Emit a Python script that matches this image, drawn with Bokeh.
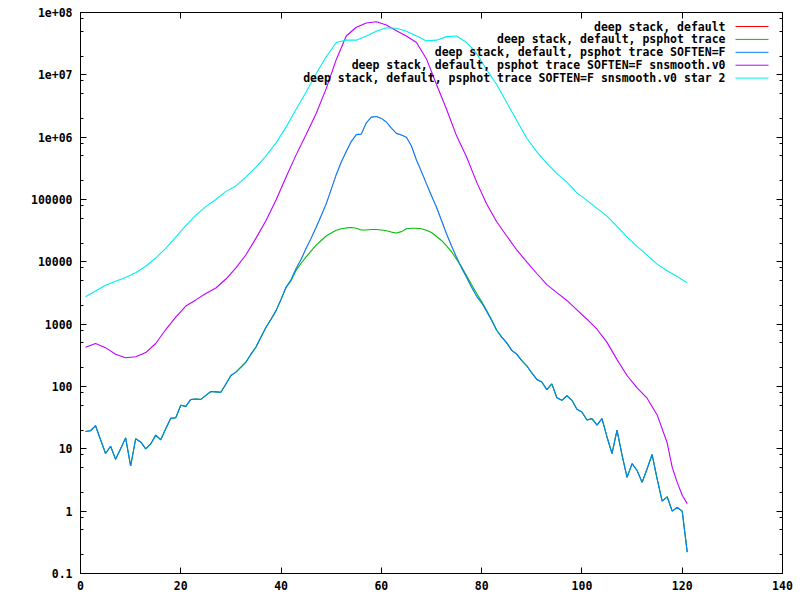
from bokeh.plotting import figure
from bokeh.models import Range1d, FixedTicker, LinearAxis, LogAxis, Label, Arrow
from bokeh.embed import file_html
from bokeh.resources import INLINE

# ---------------- data ----------------
x_ticks = [0, 20, 40, 60, 80, 100, 120, 140]
x_tick_labels = ["0", "20", "40", "60", "80", "100", "120", "140"]
y_ticks = [0.1, 1, 10, 100, 1000, 10000, 100000, 1e6, 1e7, 1e8]
y_tick_labels = ["0.1", "1", "10", "100", "1000", "10000", "100000", "1e+06", "1e+07", "1e+08"]
y_minor_mult = [2, 5, 8]

series_names = [
    "deep stack, default",
    "deep stack, default, psphot trace",
    "deep stack, default, psphot trace SOFTEN=F",
    "deep stack, default, psphot trace SOFTEN=F snsmooth.v0",
    "deep stack, default, psphot trace SOFTEN=F snsmooth.v0 star 2",
]
series_colors = ["#ff0000", "#00c000", "#0080ff", "#c000ff", "#00eeee"]

# blue curve ("SOFTEN=F"), one value per radius bin 1..121
soften_x = list(range(1, 122))
soften_y = [
    19, 19.5, 23.5, 14, 8.4, 11, 6.8, 10, 15, 5.3,
    14.5, 12.9, 10, 12, 16.6, 14, 21, 31, 31.5, 50,
    48, 62, 63, 62, 72, 83, 82, 81, 110, 150,
    170, 205, 247, 330, 430, 620, 890, 1200, 1650, 2500,
    3900, 5200, 7800, 11000, 16500, 24000, 36000, 55000, 85000, 145000,
    250000, 400000, 590000, 850000, 1.1e6, 1.12e6, 1.7e6, 2.1e6, 2.15e6, 2.0e6,
    1.75e6, 1.4e6, 1.15e6, 1.08e6, 1.0e6, 7.2e5, 4.3e5, 2.8e5, 1.78e5, 1.15e5,
    75000, 46000, 28000, 18000, 11800, 8000, 5600, 3900, 2800, 2200,
    1600, 1150, 800, 620, 500, 380, 330, 260, 215, 165,
    130, 118, 89, 110, 66, 60, 71, 60, 43, 39,
    29, 30.5, 24, 30.5, 15.5, 8.4, 20, 7.9, 3.5, 5.8,
    4.5, 2.9, 4.8, 8.1, 3.3, 1.45, 1.7, 1.0, 1.15, 1.0,
    0.22,
]

# red curve ("default") - coincides with the blue one
default_x = soften_x
default_y = soften_y

# green curve ("psphot trace"): same as blue outside the saturated core 42..82
trace_core_y = [
    5000, 7300, 9500, 12000, 15000, 18500, 22000, 26000, 29000, 32000,
    34000, 35000, 35500, 34500, 32500, 32500, 33000, 33000, 32500, 31500,
    30000, 29000, 30500, 34000, 34500, 34500, 34000, 32000, 29500, 25500,
    22000, 18000, 14500, 11000, 8300, 6000, 4300, 3100, 2300, 1650,
    1180,
]
trace_x = soften_x
trace_y = soften_y[:41] + trace_core_y + soften_y[82:]

# purple curve ("snsmooth.v0")
smooth_x = [1, 3, 5, 7, 9, 11, 13, 15, 17, 19, 21, 23, 25, 27, 29, 31, 33, 35, 37, 39,
            41, 43, 45, 47, 49, 51, 53, 55, 57, 59, 61, 63, 65, 67, 69, 71, 73, 75, 77, 79,
            81, 83, 85, 87, 89, 91, 93, 95, 97, 99, 101, 103, 105, 107, 109, 111, 113, 115,
            117, 118, 119, 120, 121]
smooth_y = [425, 490, 420, 330, 290, 300, 350, 490, 820, 1300,
            1950, 2450, 3100, 3800, 5300, 8000, 13000, 24000, 46000, 98000,
            230000, 520000, 1.1e6, 2.4e6, 6.0e6, 1.75e7, 4.2e7, 5.8e7, 6.8e7, 7.1e7,
            6.3e7, 5.1e7, 4.2e7, 3.3e7, 1.8e7, 7e6, 2.8e6, 1.05e6, 4.8e5, 1.9e5,
            8.5e4, 44000, 26000, 15500, 10000, 6500, 4300, 3200, 2400, 1700,
            1200, 830, 510, 270, 150, 95, 65, 35,
            12.5, 5.1, 2.9, 1.8, 1.32]

# cyan curve ("star 2")
star2_x = [1, 3, 5, 7, 9, 11, 13, 15, 17, 19, 21, 23, 25, 27, 29, 31, 33, 35, 37, 39,
           41, 43, 45, 47, 49, 51, 53, 55, 57, 59, 61, 63, 65, 67, 69, 71, 73, 75, 77, 79,
           81, 83, 85, 87, 89, 91, 93, 95, 97, 99, 101, 103, 105, 107, 109, 111, 113, 115,
           117, 119, 121]
star2_y = [2750, 3400, 4200, 4900, 5600, 6700, 8500, 11500, 16500, 25000,
           38000, 56000, 77000, 100000, 135000, 165000, 230000, 330000, 500000, 810000,
           1.45e6, 2.8e6, 5.3e6, 1.05e7, 1.95e7, 3.3e7, 3.6e7, 3.6e7, 4.2e7, 5.0e7,
           5.7e7, 5.6e7, 5.0e7, 4.2e7, 3.5e7, 3.6e7, 4.1e7, 4.2e7, 3.3e7, 2.2e7,
           1.2e7, 7e6, 3.6e6, 1.85e6, 9.6e5, 5.8e5, 3.8e5, 2.6e5, 1.9e5, 1.28e5,
           9.7e4, 72000, 54000, 37000, 25000, 17700, 12800, 9200,
           7200, 5800, 4600]

series = [
    (default_x, default_y),
    (trace_x, trace_y),
    (soften_x, soften_y),
    (smooth_x, smooth_y),
    (star2_x, star2_y),
]
series_widths = [0.4, 1.1, 1.1, 1.1, 1.1]

# ---------------- figure ----------------
FONT = "DejaVu Sans Mono"
FSIZE = "11.5px"

p = figure(width=800, height=600, output_backend="svg", toolbar_location=None,
           x_range=Range1d(0, 140), y_range=Range1d(0.1, 1e8), y_axis_type="log",
           min_border_left=80, min_border_right=18, min_border_top=12, min_border_bottom=27)
p.background_fill_color = "white"
p.border_fill_color = "white"
p.outline_line_color = "black"
p.outline_line_width = 1
p.grid.visible = False

y_minor = [m * t for t in y_ticks[:-1] for m in y_minor_mult]


def style_axis(ax, ticks, minor, labels, show):
    ax.ticker = FixedTicker(ticks=ticks, minor_ticks=minor)
    ax.axis_line_color = "black"
    ax.major_tick_line_color = "black"
    ax.minor_tick_line_color = "black"
    ax.major_tick_in = 6
    ax.major_tick_out = 0
    ax.minor_tick_in = 3
    ax.minor_tick_out = 0
    if show:
        ax.major_label_overrides = {t: l for t, l in zip(ticks, labels)}
        ax.major_label_text_font = FONT
        ax.major_label_text_font_style = "bold"
        ax.major_label_text_font_size = FSIZE
        ax.major_label_text_color = "black"
    else:
        ax.major_label_overrides = {t: "" for t in ticks}
        ax.major_label_text_font_size = "1px"
        ax.major_label_standoff = 0


bottom = p.xaxis[0]
style_axis(bottom, x_ticks, [], x_tick_labels, True)
bottom.major_label_standoff = 7
left = p.yaxis[0]
style_axis(left, y_ticks, y_minor, y_tick_labels, True)
left.major_label_standoff = 8

top = LinearAxis()
style_axis(top, x_ticks, [], x_tick_labels, False)
p.add_layout(top, "above")
right = LogAxis()
style_axis(right, y_ticks, y_minor, y_tick_labels, False)
p.add_layout(right, "right")

for (xs, ys), c, w in zip(series, series_colors, series_widths):
    p.line(xs, ys, line_color=c, line_width=w)

# ---------------- legend (gnuplot style: text right, sample line to its right) ----------------
leg_text_right = 645
leg_line_x0 = 655
leg_line_x1 = 688
leg_top = 547
leg_step = 12.9
for i, (name, c) in enumerate(zip(series_names, series_colors)):
    yy = leg_top - i * leg_step
    p.add_layout(Label(x=leg_text_right, y=yy, x_units="screen", y_units="screen", text=name,
                       text_align="right", text_baseline="middle", text_font=FONT,
                       text_font_style="bold", text_font_size=FSIZE, text_color="black"))
    p.add_layout(Arrow(x_start=leg_line_x0, y_start=yy, x_end=leg_line_x1, y_end=yy,
                       start_units="screen", end_units="screen", start=None, end=None,
                       line_color=c, line_width=1))

open("out.html", "w").write(file_html(p, INLINE))
